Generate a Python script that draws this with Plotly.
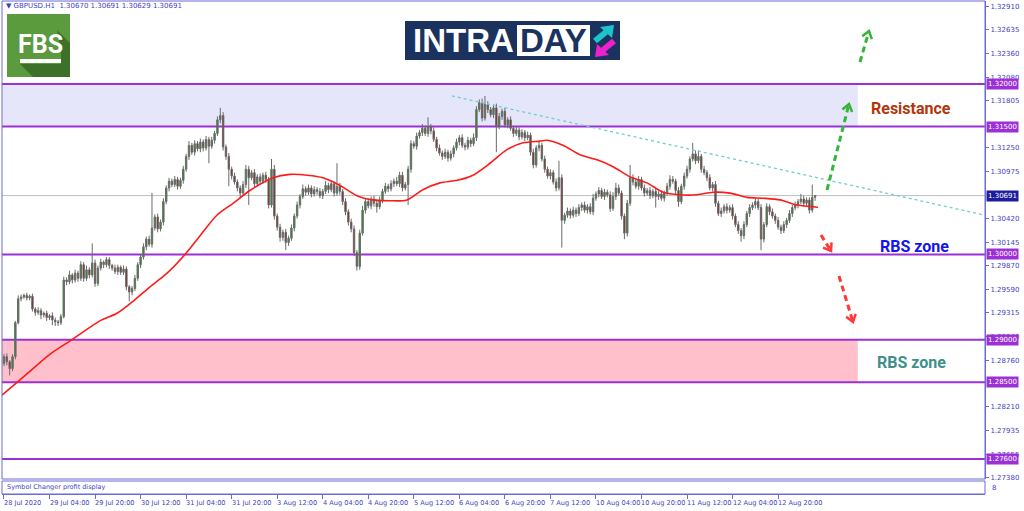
import math
import plotly.graph_objects as go

# ---------------- data ----------------
symbol = "GBPUSD.H1"
last_ohlc = [1.30670, 1.30691, 1.30629, 1.30691]

first_open = 1.2872
closes = [
    1.2880, 1.2874, 1.2866, 1.2880, 1.2920, 1.2948, 1.2950, 1.2952, 1.2949, 1.2951,
    1.2936, 1.2932, 1.2934, 1.2929, 1.2931, 1.2926, 1.2928, 1.2923, 1.2921, 1.2920,
    1.2927, 1.2970, 1.2968, 1.2976, 1.2970, 1.2978, 1.2972, 1.2988, 1.2972, 1.2982,
    1.2976, 1.2990, 1.2966, 1.2984, 1.2991, 1.2988, 1.2994, 1.2987, 1.2984, 1.2980,
    1.2985, 1.2979, 1.2983, 1.2962, 1.2956, 1.2960, 1.2972, 1.2988, 1.2997, 1.3009,
    1.3018, 1.3012, 1.3031, 1.3044, 1.3030, 1.3038, 1.3062, 1.3078, 1.3086, 1.3082,
    1.3088, 1.3080, 1.3087, 1.3100, 1.3115, 1.3128, 1.3120, 1.3130, 1.3124, 1.3132,
    1.3125, 1.3135, 1.3127, 1.3134, 1.3142, 1.3158, 1.3163, 1.3126, 1.3115, 1.3100,
    1.3092, 1.3085, 1.3078, 1.3072, 1.3082, 1.3100, 1.3090, 1.3096, 1.3083, 1.3091,
    1.3086, 1.3093, 1.3088, 1.3058, 1.3100, 1.3045, 1.3032, 1.3020, 1.3026, 1.3014,
    1.3019, 1.3031, 1.3045, 1.3058, 1.3068, 1.3077, 1.3073, 1.3078, 1.3071, 1.3076,
    1.3074, 1.3069, 1.3074, 1.3081, 1.3076, 1.3083, 1.3072, 1.3080, 1.3074, 1.3062,
    1.3050, 1.3038, 1.3030, 1.3002, 1.2986, 1.3025, 1.3052, 1.3062, 1.3057, 1.3065,
    1.3060, 1.3056, 1.3064, 1.3074, 1.3080, 1.3077, 1.3083, 1.3086, 1.3083, 1.3093,
    1.3078, 1.3082, 1.3100, 1.3130, 1.3127, 1.3139, 1.3143, 1.3148, 1.3142, 1.3150,
    1.3145, 1.3135, 1.3125, 1.3119, 1.3115, 1.3120, 1.3113, 1.3118, 1.3125, 1.3132,
    1.3137, 1.3128, 1.3126, 1.3134, 1.3130, 1.3137, 1.3170, 1.3178, 1.3160, 1.3176,
    1.3170, 1.3164, 1.3172, 1.3150, 1.3162, 1.3168, 1.3152, 1.3158, 1.3148, 1.3142,
    1.3146, 1.3138, 1.3143, 1.3137, 1.3140, 1.3120, 1.3105, 1.3125, 1.3128, 1.3112,
    1.3100, 1.3092, 1.3096, 1.3085, 1.3078, 1.3090, 1.3040, 1.3046, 1.3051, 1.3046,
    1.3052, 1.3048, 1.3055, 1.3058, 1.3052, 1.3056, 1.3050, 1.3066, 1.3071, 1.3075,
    1.3068, 1.3073, 1.3070, 1.3054, 1.3068, 1.3078, 1.3072, 1.3045, 1.3025, 1.3060,
    1.3090, 1.3085, 1.3080, 1.3088, 1.3078, 1.3072, 1.3075, 1.3069, 1.3074, 1.3068,
    1.3071, 1.3066, 1.3072, 1.3080, 1.3088, 1.3086, 1.3075, 1.3062, 1.3080, 1.3092,
    1.3100, 1.3112, 1.3118, 1.3110, 1.3115, 1.3100, 1.3096, 1.3090, 1.3078, 1.3082,
    1.3060, 1.3048, 1.3051, 1.3056, 1.3052, 1.3055, 1.3045, 1.3035, 1.3028, 1.3022,
    1.3035, 1.3048, 1.3055, 1.3058, 1.3062, 1.3055, 1.3018, 1.3035, 1.3056, 1.3050,
    1.3045, 1.3040, 1.3032, 1.3028, 1.3035, 1.3040, 1.3048, 1.3055, 1.3058, 1.3062,
    1.3065, 1.3060, 1.3064, 1.3052, 1.3067, 1.30691,
]
# upper / lower shadow length of every candle, in pips
wick_up = [
    3, 4, 2, 3, 2, 4, 3, 2, 3, 2,
    3, 2, 4, 3, 2, 3, 2, 4, 3, 2,
    3, 4, 3, 5, 2, 4, 3, 4, 3, 5,
    3, 23, 4, 3, 4, 2, 3, 3, 2, 4,
    3, 2, 4, 3, 2, 3, 4, 3, 3, 4,
    3, 4, 41, 3, 4, 3, 4, 3, 4, 3,
    4, 3, 3, 4, 3, 5, 3, 4, 3, 4,
    3, 4, 3, 4, 3, 4, 9, 4, 3, 4,
    3, 4, 3, 3, 4, 5, 4, 3, 4, 3,
    4, 3, 4, 3, 12, 5, 3, 4, 3, 4,
    3, 4, 3, 4, 3, 5, 3, 4, 3, 4,
    3, 4, 3, 5, 3, 4, 3, 27, 4, 3,
    4, 3, 4, 4, 3, 4, 5, 3, 4, 3,
    4, 3, 4, 3, 4, 3, 4, 3, 5, 4,
    4, 3, 4, 4, 3, 4, 3, 5, 3, 11,
    3, 4, 3, 4, 3, 4, 3, 4, 3, 4,
    3, 4, 3, 4, 3, 5, 4, 4, 5, 10,
    4, 3, 4, 5, 4, 3, 4, 3, 4, 3,
    4, 3, 4, 3, 4, 3, 4, 3, 4, 3,
    4, 3, 4, 3, 4, 20, 4, 3, 4, 3,
    4, 3, 4, 3, 4, 3, 4, 5, 3, 4,
    3, 4, 3, 4, 5, 6, 4, 3, 3, 4,
    15, 4, 3, 4, 3, 4, 3, 4, 3, 4,
    3, 4, 3, 4, 5, 4, 3, 4, 3, 4,
    4, 3, 13, 4, 7, 3, 4, 3, 4, 3,
    4, 3, 4, 3, 4, 3, 4, 3, 4, 3,
    4, 3, 4, 3, 4, 3, 4, 3, 4, 3,
    4, 3, 4, 3, 4, 3, 4, 3, 4, 3,
    6, 4, 3, 3, 15, 0,
]
wick_dn = [
    3, 4, 8, 3, 3, 2, 3, 2, 3, 3,
    3, 4, 3, 5, 3, 4, 3, 6, 5, 4,
    3, 2, 4, 3, 4, 3, 4, 3, 4, 3,
    4, 3, 4, 3, 3, 4, 3, 4, 3, 3,
    4, 3, 3, 4, 11, 4, 3, 3, 4, 3,
    4, 3, 4, 3, 4, 3, 4, 3, 4, 3,
    3, 4, 3, 4, 3, 4, 3, 4, 3, 4,
    4, 3, 20, 3, 4, 3, 4, 4, 4, 20,
    4, 3, 4, 6, 3, 4, 32, 3, 4, 3,
    4, 3, 4, 4, 3, 4, 4, 5, 4, 9,
    4, 3, 4, 3, 4, 3, 4, 3, 4, 3,
    4, 3, 4, 3, 4, 3, 4, 3, 4, 4,
    4, 4, 4, 4, 5, 4, 3, 4, 3, 4,
    4, 7, 3, 4, 3, 4, 3, 4, 3, 4,
    4, 3, 24, 4, 3, 4, 3, 4, 3, 4,
    4, 3, 4, 3, 4, 3, 4, 3, 4, 3,
    4, 3, 4, 3, 4, 3, 4, 3, 4, 3,
    4, 3, 4, 30, 3, 4, 3, 4, 3, 4,
    3, 4, 3, 4, 3, 4, 4, 3, 4, 3,
    4, 3, 4, 3, 4, 3, 32, 4, 3, 4,
    3, 4, 3, 4, 3, 4, 3, 4, 3, 4,
    3, 4, 3, 4, 3, 4, 3, 4, 7, 4,
    3, 4, 3, 4, 3, 4, 3, 4, 3, 13,
    4, 3, 4, 3, 4, 3, 4, 6, 3, 4,
    3, 4, 3, 4, 3, 4, 3, 4, 3, 4,
    4, 3, 4, 3, 4, 3, 4, 3, 4, 7,
    4, 3, 4, 3, 4, 3, 13, 4, 3, 4,
    3, 4, 3, 4, 3, 4, 3, 4, 3, 4,
    3, 4, 3, 4, 3, 4.1,
]

# moving average (red line), read at sample bars
ma_bars = [-0.7, 4.6, 10.2, 16.2, 23.9, 33.7, 39.7, 45.3, 51.3, 57.3, 63.6, 68.9,
           74.8, 80.5, 86.4, 94.5, 100.5, 106.5, 112.1, 118.1, 124, 129.7, 135.6,
           141.6, 147.2, 153.2, 159.2, 164.8, 170.8, 176.7, 182.4, 188.3, 190.8,
           196.4, 202.4, 208.4, 214, 220, 225.9, 231.6, 237.5, 243.5, 249.1, 255.1,
           261.1, 266.7, 272.7, 278.6, 284.3, 286]
ma_values = [1.2835, 1.2850, 1.2866, 1.2883, 1.2900, 1.2922, 1.2931, 1.2945, 1.2962,
             1.2978, 1.3000, 1.3022, 1.3046, 1.3060, 1.3075, 1.3090, 1.3094, 1.3093,
             1.3090, 1.3081, 1.3069, 1.3064, 1.3063, 1.3064, 1.3076, 1.3084, 1.3087,
             1.3093, 1.3107, 1.3123, 1.3131, 1.3133, 1.3134, 1.3128, 1.3117, 1.3111,
             1.3103, 1.3091, 1.3084, 1.3073, 1.3070, 1.3070, 1.3073, 1.3072, 1.3067,
             1.3066, 1.3064, 1.3058, 1.3056, 1.3055]

# dotted trend line
trend_bars = [157.4, 344.7]
trend_prices = [1.3186, 1.3046]

# horizontal levels and zones
levels = [1.32000, 1.31500, 1.30000, 1.29000, 1.28500, 1.27600]
bid_price = 1.30691
resistance_zone = [1.31500, 1.32000]
support_zone = [1.28500, 1.29000]
zone_end_bar = 300

# axes
price_ticks = [1.27380, 1.27655, 1.27935, 1.28210, 1.28760, 1.29040, 1.29315, 1.29590,
               1.29870, 1.30145, 1.30420, 1.30975, 1.31250, 1.31805, 1.32080,
               1.32360, 1.32635, 1.32910]
time_labels = ["28 Jul 2020", "29 Jul 04:00", "29 Jul 20:00", "30 Jul 12:00",
               "31 Jul 04:00", "31 Jul 20:00", "3 Aug 12:00", "4 Aug 04:00",
               "4 Aug 20:00", "5 Aug 12:00", "6 Aug 04:00", "6 Aug 20:00",
               "7 Aug 12:00", "10 Aug 04:00", "10 Aug 20:00", "11 Aug 12:00",
               "12 Aug 04:00", "12 Aug 20:00"]
time_label_bars = [0, 16, 32, 48, 64, 80, 96, 112, 128, 144, 160, 176, 192, 208,
                   224, 240, 256, 272]

# ---------------- figure ----------------
W, H = 1024, 511
PL, PR, PT, PB = 2, 985, 1, 479
X_RANGE = [-0.7, 344.7]
Y_RANGE = [1.27365, 1.32974]
PIP = 0.0001
AXIS_BLUE = "#6b6bd8"
TEXT_BLUE = "#3f3fc0"
PURPLE = "#9b30d6"

bars = list(range(len(closes)))
opens = [first_open] + closes[:-1]
highs = [max(o, c) + u * PIP for o, c, u in zip(opens, closes, wick_up)]
lows = [min(o, c) - d * PIP for o, c, d in zip(opens, closes, wick_dn)]

fig = go.Figure()

fig.add_trace(go.Candlestick(
    x=bars, open=opens, high=highs, low=lows, close=closes,
    increasing=dict(line=dict(color="#6a6a6a", width=1), fillcolor="#1c961c"),
    decreasing=dict(line=dict(color="#6a6a6a", width=1), fillcolor="#8c1010"),
    whiskerwidth=0, hoverinfo="skip", showlegend=False,
))
fig.add_trace(go.Scatter(
    x=ma_bars, y=ma_values, mode="lines",
    line=dict(color="#ff1a1a", width=1.6, shape="spline", smoothing=0.8),
    hoverinfo="skip", showlegend=False,
))
fig.add_trace(go.Scatter(
    x=trend_bars, y=trend_prices, mode="lines",
    line=dict(color="#70cdd2", width=1.3, dash="dot"),
    hoverinfo="skip", showlegend=False,
))


def px_x(x):
    return x / W


def px_y(y):
    return 1 - y / H


# zones
fig.add_shape(type="rect", xref="x", yref="y", x0=X_RANGE[0], x1=zone_end_bar,
              y0=resistance_zone[0], y1=resistance_zone[1], fillcolor="#e6e6fa",
              line=dict(width=0), layer="below")
fig.add_shape(type="rect", xref="x", yref="y", x0=X_RANGE[0], x1=zone_end_bar,
              y0=support_zone[0], y1=support_zone[1], fillcolor="#ffc0cb",
              line=dict(width=0), layer="below")
# bid line
fig.add_shape(type="line", xref="x", yref="y", x0=X_RANGE[0], x1=X_RANGE[1],
              y0=bid_price, y1=bid_price, line=dict(color="#c0c0c0", width=1),
              layer="below")
# levels
for lv in levels:
    fig.add_shape(type="line", xref="x", yref="y", x0=X_RANGE[0], x1=X_RANGE[1],
                  y0=lv, y1=lv, line=dict(color=PURPLE, width=2), layer="below")

# frames
fig.add_shape(type="rect", xref="paper", yref="paper", x0=px_x(PL), x1=px_x(PR),
              y0=px_y(PB), y1=px_y(PT), line=dict(color=AXIS_BLUE, width=1))
fig.add_shape(type="rect", xref="paper", yref="paper", x0=px_x(PL), x1=px_x(PR),
              y0=px_y(494), y1=px_y(481), line=dict(color=AXIS_BLUE, width=1))

annotations = []


def add_text(x, y, text, size, color, xanchor="left", yanchor="middle", **kw):
    annotations.append(dict(x=px_x(x), y=px_y(y), xref="paper", yref="paper",
                            text=text, showarrow=False, xanchor=xanchor,
                            yanchor=yanchor, font=dict(size=size, color=color,
                                                       family=kw.pop("family", "DejaVu Sans")),
                            **kw))


# level price boxes
for lv in levels:
    annotations.append(dict(x=px_x(PR + 1), y=lv, xref="paper", yref="y",
                            text=f"{lv:.5f}", showarrow=False, xanchor="left",
                            yanchor="middle", bgcolor=PURPLE, borderpad=1,
                            font=dict(size=7, color="white", family="DejaVu Sans")))
annotations.append(dict(x=px_x(PR + 1), y=bid_price, xref="paper", yref="y",
                        text=f"{bid_price:.5f}", showarrow=False, xanchor="left",
                        yanchor="middle", bgcolor="#1c1c9c", borderpad=1,
                        font=dict(size=7, color="white", family="DejaVu Sans")))

# time labels
for b, lab in zip(time_label_bars, time_labels):
    annotations.append(dict(x=b, y=px_y(497), xref="x", yref="paper", text=lab,
                            showarrow=False, xanchor="left", yanchor="top",
                            xshift=-2,
                            font=dict(size=6.6, color=TEXT_BLUE, family="DejaVu Sans")))

# header & sub-window caption
add_text(4, 6, "▼ " + symbol + "  " + " ".join(f"{v:.5f}" for v in last_ohlc), 7, TEXT_BLUE)
add_text(5, 487, "Symbol Changer profit display", 6.5, TEXT_BLUE)
add_text(990, 488, "8", 7, TEXT_BLUE)

# zone texts
add_text(911, 108, "<b>Resistance</b>", 16, "#b3360c", xanchor="center", family="Roboto")
add_text(914, 246, "<b>RBS zone</b>", 16, "#1414ec", xanchor="center", family="Roboto")
add_text(911, 362, "<b>RBS zone</b>", 16, "#3f8f8b", xanchor="center", family="Roboto")

# ---------- logos ----------
def path_px(points, closed=True, **kw):
    d = "M " + " L ".join(f"{px_x(x):.5f},{px_y(y):.5f}" for x, y in points)
    if closed:
        d += " Z"
    fig.add_shape(type="path", xref="paper", yref="paper", path=d, **kw)


def rect_px(x0, y0, x1, y1, **kw):
    fig.add_shape(type="rect", xref="paper", yref="paper", x0=px_x(x0), x1=px_x(x1),
                  y0=px_y(y1), y1=px_y(y0), **kw)


# FBS
rect_px(7, 14, 70, 77, fillcolor="#5b9a3d", line=dict(width=0))
path_px([(57, 30), (70, 43), (70, 77), (33, 77), (20, 64), (61, 64), (61, 52)],
        fillcolor="#3d7028", line=dict(width=0))
add_text(40, 45, "<b>FBS</b>", 25, "white", xanchor="center", family="Roboto")
rect_px(20, 59, 61, 63, fillcolor="white", line=dict(width=0))

# INTRADAY
rect_px(405, 21, 620, 60, fillcolor="#1b325f", line=dict(width=0))
rect_px(517, 25, 590, 56, fillcolor="white", line=dict(width=0))
add_text(411, 41, "<b>INTRA</b>", 33, "white", family="Liberation Sans")
add_text(553, 41, "<b>DAY</b>", 33, "#1b325f", xanchor="center", family="Liberation Sans")
fig.add_shape(type="line", xref="paper", yref="paper", x0=px_x(595), y0=px_y(41),
              x1=px_x(606), y1=px_y(32), line=dict(color="#1cc4cc", width=6))
path_px([(614, 25), (600, 27), (612, 38)], fillcolor="#1cc4cc", line=dict(width=0))
fig.add_shape(type="line", xref="paper", yref="paper", x0=px_x(614), y0=px_y(41),
              x1=px_x(603), y1=px_y(50), line=dict(color="#ee22cc", width=6))
path_px([(595, 57), (597, 44), (609, 55)], fillcolor="#ee22cc", line=dict(width=0))


# dashed arrows
def dashed_arrow(x0, y0, x1, y1, color):
    fig.add_shape(type="line", xref="paper", yref="paper", x0=px_x(x0), y0=px_y(y0),
                  x1=px_x(x1), y1=px_y(y1),
                  line=dict(color=color, width=3, dash="6px,4px"))
    dx, dy = x1 - x0, y1 - y0
    ln = math.hypot(dx, dy)
    ux, uy = dx / ln, dy / ln
    nx, ny = -uy, ux
    a, b = 7, 5
    p1 = (x1 - a * ux + b * nx, y1 - a * uy + b * ny)
    p2 = (x1 - a * ux - b * nx, y1 - a * uy - b * ny)
    path_px([p1, (x1, y1), p2], closed=False, line=dict(color=color, width=2.5))


dashed_arrow(827, 190, 849, 104, "#33b538")
dashed_arrow(860, 62, 869, 31, "#33b538")
dashed_arrow(821, 235, 831, 251, "#ff3838")
dashed_arrow(839, 276, 853, 322, "#ff3838")

fig.update_layout(
    width=W, height=H,
    margin=dict(l=0, r=0, t=0, b=0),
    paper_bgcolor="white", plot_bgcolor="white",
    font=dict(family="DejaVu Sans", size=7, color=TEXT_BLUE),
    showlegend=False,
    annotations=annotations,
    xaxis=dict(
        domain=[px_x(PL), px_x(PR)], range=X_RANGE, anchor="free",
        position=px_y(494), showgrid=False, zeroline=False,
        rangeslider=dict(visible=False), showline=True, linecolor=AXIS_BLUE,
        ticks="outside", ticklen=4, tickcolor=AXIS_BLUE,
        tickvals=time_label_bars, showticklabels=False, automargin=False,
    ),
    yaxis=dict(
        domain=[px_y(PB), px_y(PT)], range=Y_RANGE, side="right", anchor="x",
        showgrid=False, zeroline=False, showline=True, linecolor=AXIS_BLUE,
        ticks="outside", ticklen=3, tickcolor=AXIS_BLUE,
        tickvals=price_ticks, ticktext=[f"{v:.5f}" for v in price_ticks],
        tickfont=dict(size=7, color=TEXT_BLUE, family="DejaVu Sans"),
        automargin=False,
    ),
)

fig.write_html(
    "out.html",
    config={"displayModeBar": False},
    post_script="document.body.style.margin='0';document.body.style.overflow='hidden';",
)
